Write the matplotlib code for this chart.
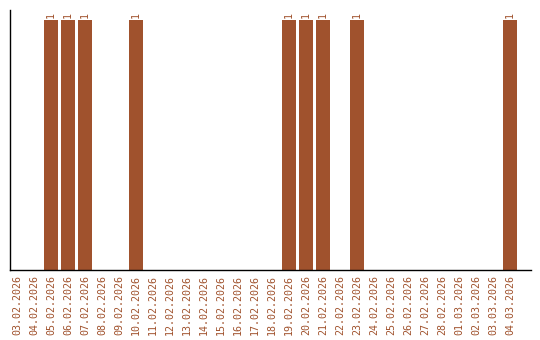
import matplotlib
matplotlib.use("Agg")
import matplotlib.pyplot as plt

dates = ["03.02.2026", "04.02.2026", "05.02.2026", "06.02.2026", "07.02.2026",
         "08.02.2026", "09.02.2026", "10.02.2026", "11.02.2026", "12.02.2026",
         "13.02.2026", "14.02.2026", "15.02.2026", "16.02.2026", "17.02.2026",
         "18.02.2026", "19.02.2026", "20.02.2026", "21.02.2026", "22.02.2026",
         "23.02.2026", "24.02.2026", "25.02.2026", "26.02.2026", "27.02.2026",
         "28.02.2026", "01.03.2026", "02.03.2026", "03.03.2026", "04.03.2026"]
counts = [0, 0, 1, 1, 1, 0, 0, 1, 0, 0,
          0, 0, 0, 0, 0, 0, 1, 1, 1, 0,
          1, 0, 0, 0, 0, 0, 0, 0, 0, 1]

color = "#a0522d"

fig = plt.figure(figsize=(5.4, 3.4), dpi=100)
ax = fig.add_axes([10 / 540, 1 - 270 / 340, 521 / 540, 260 / 340])

x = list(range(len(dates)))
ax.bar(x, counts, width=0.82, color=color)
for xi, c in zip(x, counts):
    if c > 0:
        ax.text(xi, c + 0.01, str(c), rotation=90, ha="center", va="bottom",
                fontsize=7.2, family="DejaVu Sans Mono", color=color)

ax.set_xlim(-0.41, 30.24)
ax.set_ylim(0, 1.04)
ax.set_xticks(x)
ax.set_xticklabels(dates, rotation=90, fontsize=7.2, family="DejaVu Sans Mono", color=color)
ax.tick_params(axis="x", length=0, pad=3.5)
ax.set_yticks([])
for s in ["top", "right"]:
    ax.spines[s].set_visible(False)
for s in ["left", "bottom"]:
    ax.spines[s].set_linewidth(1.0)
    ax.spines[s].set_color("black")

fig.savefig("out.png", dpi=100)
